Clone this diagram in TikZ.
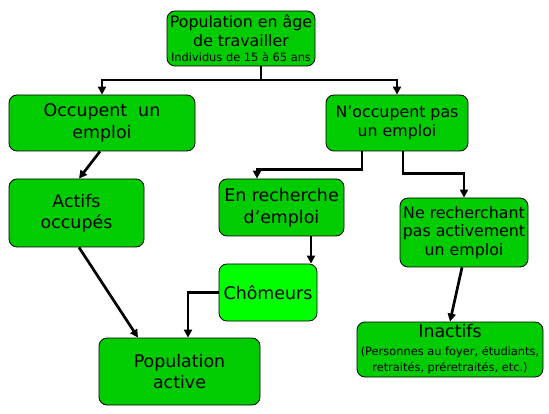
\documentclass[tikz,border=0pt]{standalone}
\usepackage{fontspec}
\setmainfont{DejaVu Sans}
\usetikzlibrary{arrows.meta}
\definecolor{boxgreen}{RGB}{0,204,0}
\definecolor{brightgreen}{RGB}{0,255,0}
\tikzset{
	box/.style={draw=black, line width=0.8pt, fill=boxgreen, rounded corners=8pt,
		inner sep=0pt, align=center, font=\fontsize{17.4}{21.5}\selectfont},
	midtext/.style={font=\fontsize{15.8}{18.5}\selectfont},
	link/.style={line width=2.7pt, -{Triangle[length=8pt,width=8pt]}},
	plain/.style={line width=2.7pt},
}
\begin{document}
\begin{tikzpicture}[x=1pt, y=-1pt]
		\useasboundingbox (0, 0) rectangle (549, 414);

		% boîtes
		\node[box, midtext, minimum width=148, minimum height=55] (popage) at (241, 38.5)
			{Population en âge\\de travailler\\[-3pt]{\fontsize{11.4}{12}\selectfont Individus de 15 à 65 ans}};
		\node[box, minimum width=186, minimum height=56] (occ) at (102, 123) {Occupent\ \ un\\emploi};
		\node[box, midtext, minimum width=142, minimum height=56] (nocc) at (397, 123) {N’occupent pas\\un emploi};
		\node[box, minimum width=135, minimum height=68] (actocc) at (76.5, 213) {Actifs\\occupés};
		\node[box, minimum width=125, minimum height=57] (recherche) at (281.5, 207.5) {En recherche\\d’emploi};
		\node[box, fill=brightgreen, minimum width=98, minimum height=57] (chom) at (268, 292.5) {Chômeurs};
		\node[box, midtext, minimum width=128, minimum height=69] (nonrech) at (464, 232.5)
			{Ne recherchant\\pas activement\\un emploi};
		\node[box, minimum width=186, minimum height=55] (inact) at (450, 349.5)
			{Inactifs\\[-4pt]{\fontsize{11.4}{11.5}\selectfont (Personnes au foyer, étudiants,}\\[-5pt]{\fontsize{11.4}{11.5}\selectfont retraités, préretraités, etc.)}};
		\node[box, minimum width=161, minimum height=67] (popact) at (179.5, 371.5) {Population\\active};

		% liens
		\coordinate (split) at (261, 80);
		\draw[plain] ([xshift=20pt]popage.south) -- (split);
		\draw[link] (split) -| (occ.north);
		\draw[link] (split) -| (nocc.north);
		\draw[link] ([xshift=-2pt]occ.south) -- ([xshift=2.5pt]actocc.north);
		\draw[link] ([xshift=2.5pt]actocc.south) -- ([xshift=-41.5pt]popact.north);
		\draw[link] ([xshift=-35pt]nocc.south) -- ++(0, 18) -| ([xshift=-24.5pt]recherche.north);
		\draw[link] ([xshift=6pt]nocc.south) -- ++(0, 22) -| (nonrech.north);
		\draw[link] ([xshift=29.5pt]recherche.south) -- ([xshift=29.5pt]recherche.south |- chom.north);
		\draw[link] (chom.west) -| ([xshift=8.5pt]popact.north);
		\draw[link] ([xshift=-2pt]nonrech.south) -- (inact.north);
	\end{tikzpicture}
\end{document}
